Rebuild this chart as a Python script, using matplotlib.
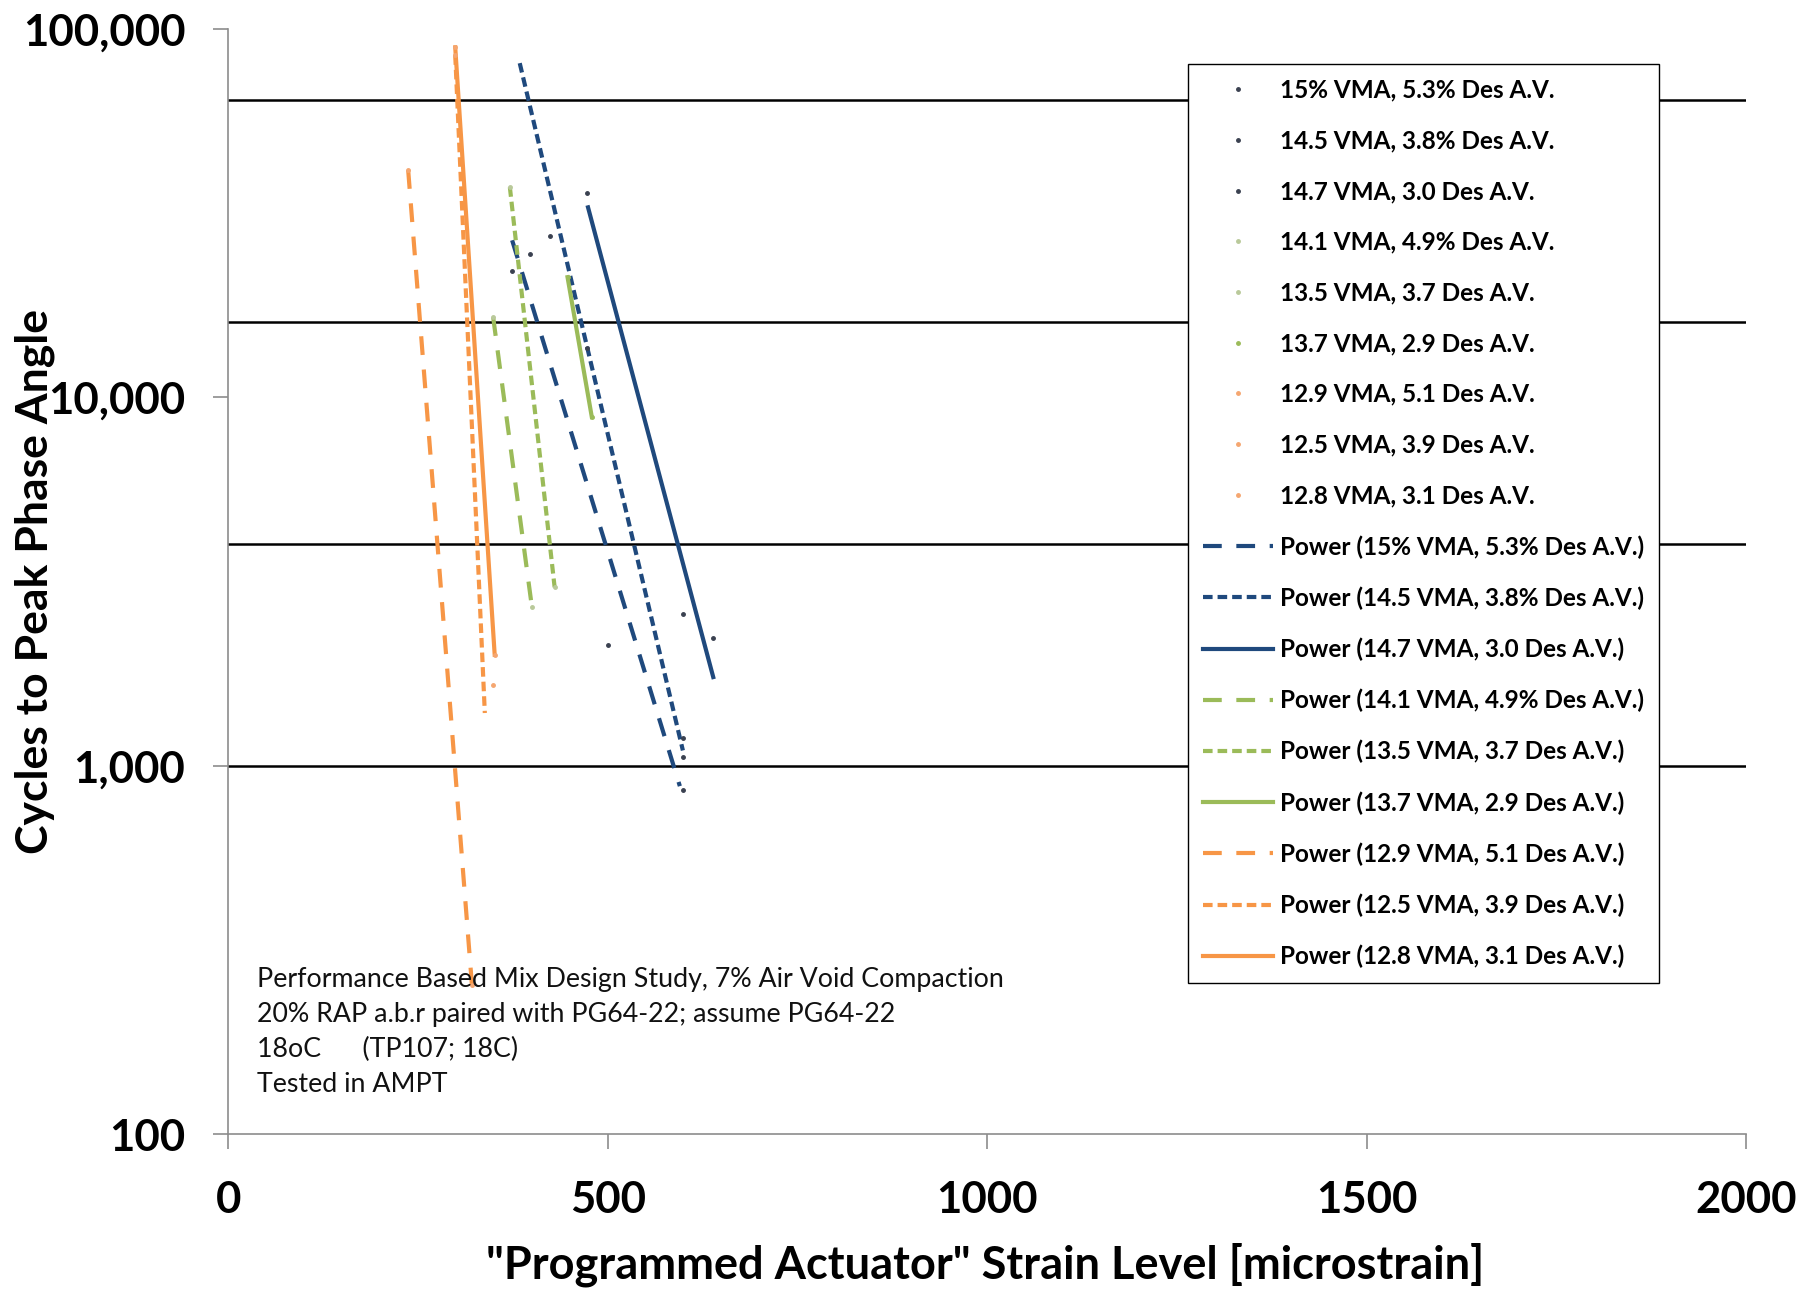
import matplotlib
matplotlib.use("Agg")
import matplotlib.pyplot as plt
from matplotlib.ticker import FixedLocator, NullLocator

plt.rcParams['font.family'] = ['Lato', 'DejaVu Sans']

# mixes (legend order)
mixes = ['15% VMA, 5.3% Des A.V.', '14.5 VMA, 3.8% Des A.V.', '14.7 VMA, 3.0 Des A.V.',
         '14.1 VMA, 4.9% Des A.V.', '13.5 VMA, 3.7 Des A.V.', '13.7 VMA, 2.9 Des A.V.',
         '12.9 VMA, 5.1 Des A.V.', '12.5 VMA, 3.9 Des A.V.', '12.8 VMA, 3.1 Des A.V.']

# test points: strain [microstrain], cycles to peak phase angle
pts_x = [[374, 500], [397, 424, 599, 599, 599], [472, 472, 599, 639],
         [349, 400], [371, 430], [447, 479],
         [237, 321], [299, 349], [299, 351]]
pts_y = [[22100, 2120], [24500, 27500, 1190, 1055, 860], [35800, 13600, 2580, 2220],
         [16500, 2700], [37200, 3050], [21200, 8840],
         [41400, 254], [84900, 1655], [89200, 2000]]

# power trendlines, read at their two ends
trend_x = [[374, 595], [384, 599], [474, 639],
           [349, 400], [371, 430], [447, 479],
           [237, 321], [299, 338], [299, 351]]
trend_y = [[26700, 880], [80800, 1100], [32800, 1740],
           [16500, 2700], [37200, 3050], [21200, 8840],
           [41400, 254], [84900, 1390], [89200, 2000]]

y_ticks = [100, 1000, 10000, 100000]
y_tick_labels = ['100', '1,000', '10,000', '100,000']
x_ticks = [0, 500, 1000, 1500, 2000]
grid_y = [1000, 4000, 16000, 64000]

note = ("Performance Based Mix Design Study, 7% Air Void Compaction\n"
        "20% RAP a.b.r paired with PG64-22; assume PG64-22\n"
        "18oC      (TP107; 18C)\n"
        "Tested in AMPT")

NAVY = '#1F497D'
GREEN = '#9BBB59'
ORANGE = '#F79646'
line_colors = [NAVY] * 3 + [GREEN] * 3 + [ORANGE] * 3
pt_colors = ['#3A4150'] * 3 + ['#B9C99A'] * 2 + [GREEN] + ['#F5A670'] * 3
LONG = (0, (4.5, 3.5))
SHORT = (0, (2.3, 1.2))
styles = [LONG, SHORT, '-'] * 3

fig = plt.figure(figsize=(18.18, 12.91), dpi=100)
ax = fig.add_axes([0.1256, 0.1216, 0.8348, 0.8559])

for g in grid_y:
    ax.axhline(g, color='black', lw=1.8, zorder=1)

pt_handles = []
for i in range(len(mixes)):
    h, = ax.plot(pts_x[i], pts_y[i], linestyle='none', marker='o', markersize=2.5,
                 color=pt_colors[i], label=mixes[i], zorder=3)
    pt_handles.append(h)

tr_handles = []
for i in range(len(mixes)):
    h, = ax.plot(trend_x[i], trend_y[i], linestyle=styles[i], lw=3, color=line_colors[i],
                 dash_capstyle='butt', label='Power (' + mixes[i] + ')', zorder=2)
    tr_handles.append(h)

ax.set_yscale('log')
ax.set_xlim(0, 2000)
ax.set_ylim(100, 100000)
ax.yaxis.set_major_locator(FixedLocator(y_ticks))
ax.yaxis.set_minor_locator(NullLocator())
ax.set_yticklabels(y_tick_labels)
ax.set_xticks(x_ticks)
ax.set_xticklabels([str(v) for v in x_ticks])

for s in ['top', 'right']:
    ax.spines[s].set_visible(False)
for s in ['left', 'bottom']:
    ax.spines[s].set_color('#8C8C8C')
    ax.spines[s].set_linewidth(1.2)
ax.tick_params(axis='both', which='major', length=11, width=1.2, color='#8C8C8C',
               labelsize=31.5, pad=20)
ax.tick_params(axis='x', pad=22)
for lbl in ax.get_xticklabels() + ax.get_yticklabels():
    lbl.set_fontweight('bold')

ax.set_ylabel('Cycles to Peak Phase Angle', fontsize=32, fontweight='bold')
ax.yaxis.set_label_coords(-0.1274, 0.5)
ax.yaxis.label.set_verticalalignment('center')
ax.set_xlabel('"Programmed Actuator" Strain Level [microstrain]', fontsize=32.5,
              fontweight='bold')
ax.xaxis.set_label_coords(0.4985, -0.118)
ax.xaxis.label.set_verticalalignment('center')

ax.text(0.019, 0.151, note, transform=ax.transAxes, fontsize=19.3, va='top', ha='left',
        linespacing=1.5, color='#111111', zorder=4)

leg = ax.legend(handles=pt_handles + tr_handles, loc='upper left',
                bbox_to_anchor=(0.6323, 0.9683), borderaxespad=0, numpoints=1,
                handlelength=2.9, handletextpad=0.3, labelspacing=1.14,
                borderpad=0.6, fancybox=False, framealpha=1, edgecolor='black',
                prop={'size': 17.5, 'weight': 'bold'})
leg.get_frame().set_linewidth(1.0)
leg.set_zorder(5)

fig.savefig('out.png', dpi=100)
